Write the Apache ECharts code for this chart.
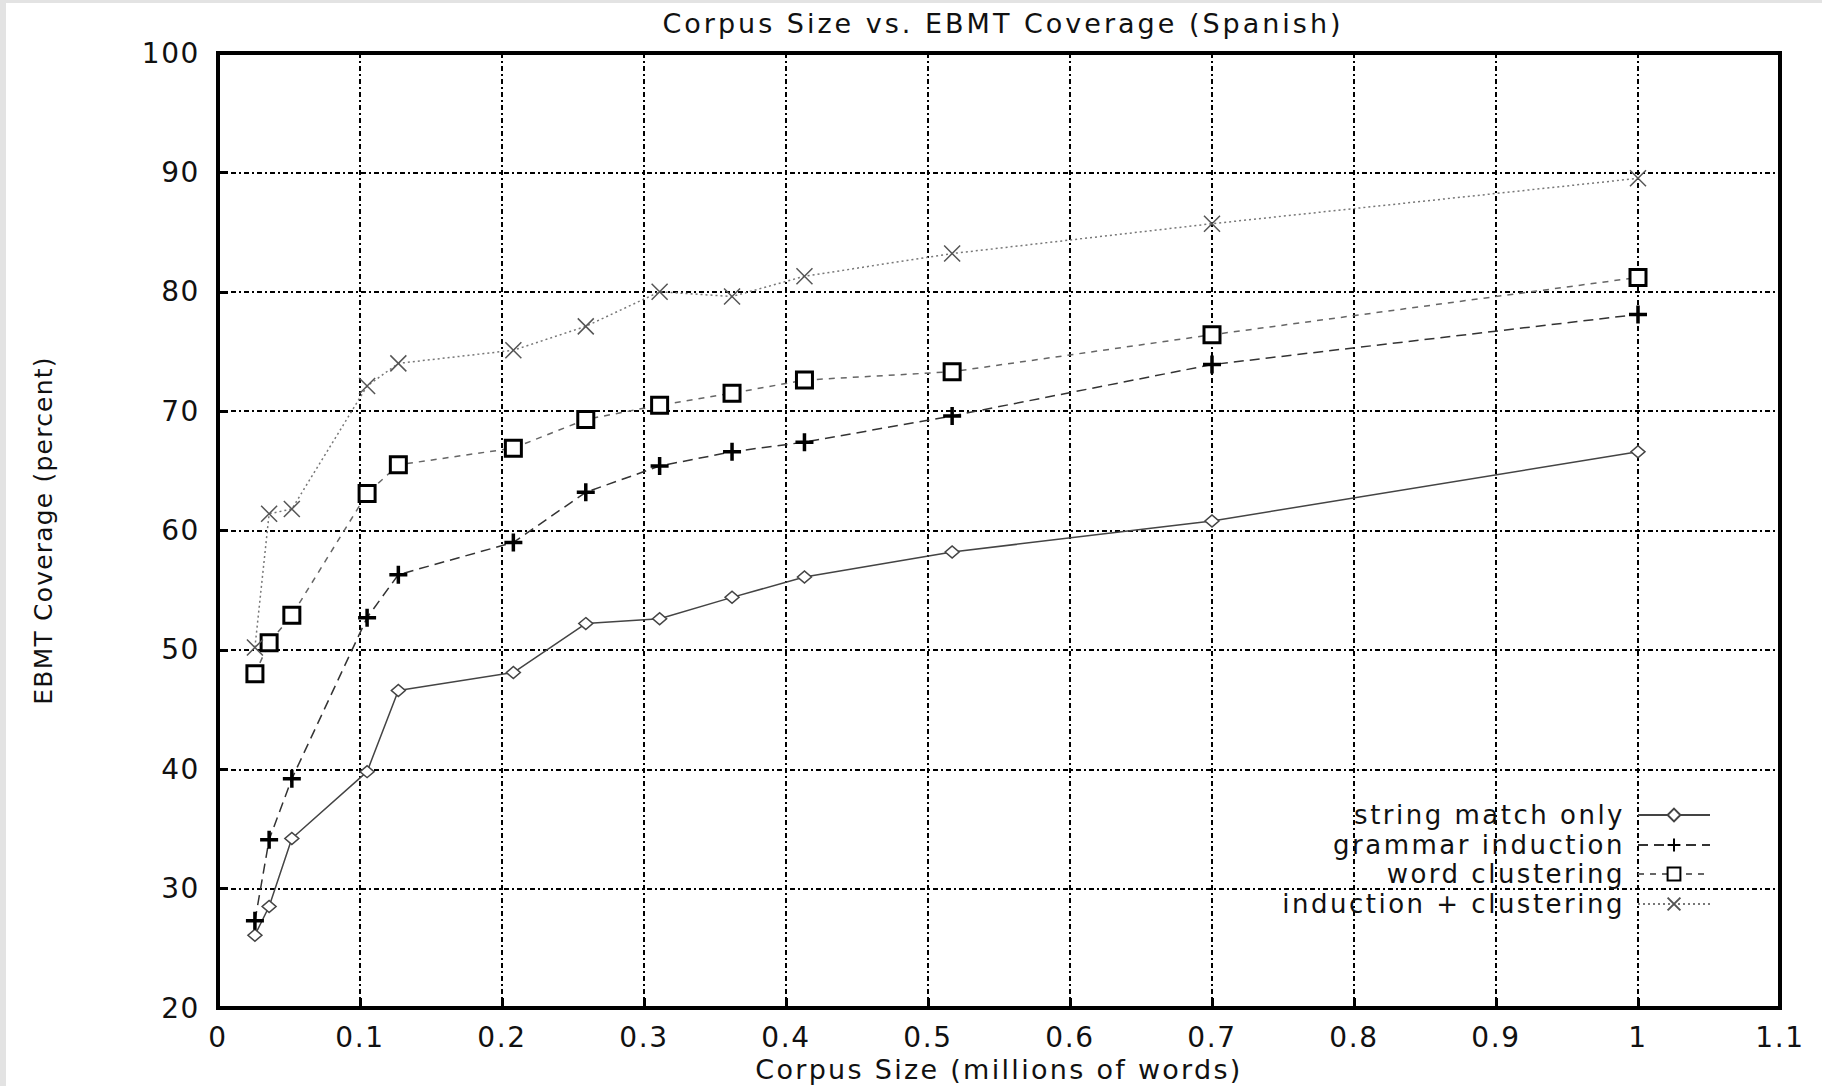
<!DOCTYPE html>
<html>
<head>
<meta charset="utf-8">
<style>
  html, body { margin: 0; padding: 0; background: #e3e3e3; }
  #chart { position: absolute; left: 6px; top: 3px; width: 1816px; height: 1083px; background: #fff; }
  /* the original postscript fonts are stretched horizontally */
  #chart text { letter-spacing: 1.6px; }
</style>
<script src="https://cdn.jsdelivr.net/npm/echarts@6/dist/echarts.min.js"></script>
</head>
<body>
<div id="chart"></div>
<script>
// corpus size in millions of words
const corpusSize = [0.026, 0.036, 0.052, 0.105, 0.127, 0.208, 0.259, 0.311, 0.362, 0.413, 0.517, 0.7, 1.0];

const stringMatch = [26.1, 28.5, 34.2, 39.8, 46.6, 48.1, 52.2, 52.6, 54.4, 56.1, 58.2, 60.8, 66.6];
const grammarInduction = [27.3, 34.1, 39.2, 52.7, 56.3, 59.0, 63.2, 65.4, 66.6, 67.4, 69.6, 73.9, 78.1];
const wordClustering = [48.0, 50.6, 52.9, 63.1, 65.5, 66.9, 69.3, 70.5, 71.5, 72.6, 73.3, 76.4, 81.2];
const inductionClustering = [50.2, 61.4, 61.8, 72.1, 74.0, 75.1, 77.1, 80.0, 79.6, 81.3, 83.2, 85.7, 89.5];

const seriesNames = ['string match only', 'grammar induction', 'word clustering', 'induction + clustering'];

const font = 'DejaVu Sans';
const plusPath = 'path://M5,0L5,10M0,5L10,5';
const crossPath = 'path://M0,0L10,10M0,10L10,0';

function pairs(ys) {
    return corpusSize.map((x, i) => [x, ys[i]]);
}

const gridLine = { show: true, lineStyle: { color: '#000', width: 2, type: [5, 3, 2, 3] } };

const chart = echarts.init(document.getElementById('chart'), null, { renderer: 'svg' });

// one legend per entry so the sample icons line up on the right
const legendRows = [812, 842, 871, 901];
const legends = seriesNames.map((name, i) => ({
    data: [name],
    orient: 'vertical',
    align: 'right',
    right: 106,
    top: legendRows[i] - 18,
    itemWidth: 72,
    itemHeight: 16,
    itemGap: 0,
    selectedMode: false,
    textStyle: { fontFamily: font, fontSize: 26, lineHeight: 26, color: '#111', padding: [0, 8, 0, 0] }
}));

chart.setOption({
    animation: false,
    backgroundColor: '#fff',
    title: {
        text: 'Corpus Size vs. EBMT Coverage (Spanish)',
        left: 992,
        top: 2,
        textAlign: 'center',
        textStyle: { fontFamily: font, fontSize: 27, fontWeight: 'normal', color: '#111' }
    },
    legend: legends,
    grid: {
        left: 212,
        right: 42,
        top: 50,
        bottom: 78,
        outerBoundsMode: 'none',
        show: true,
        borderColor: '#000',
        borderWidth: 4
    },
    xAxis: {
        type: 'value',
        min: 0,
        max: 1.1,
        interval: 0.1,
        name: 'Corpus Size (millions of words)',
        nameLocation: 'middle',
        nameGap: 40,
        nameTextStyle: { fontFamily: font, fontSize: 27, color: '#111' },
        axisLine: { show: true, lineStyle: { color: '#000', width: 4 } },
        axisTick: { show: true, inside: true, length: 10, lineStyle: { color: '#000', width: 3 } },
        axisLabel: {
            fontFamily: font, fontSize: 28, color: '#111', margin: 15,
            formatter: v => String(Math.round(v * 10) / 10)
        },
        splitLine: gridLine
    },
    yAxis: {
        type: 'value',
        min: 20,
        max: 100,
        interval: 10,
        name: 'EBMT Coverage (percent)',
        nameLocation: 'middle',
        nameGap: 162,
        nameTextStyle: { fontFamily: font, fontSize: 25, color: '#111' },
        axisLine: { show: true, lineStyle: { color: '#000', width: 4 } },
        axisTick: { show: true, inside: true, length: 10, lineStyle: { color: '#000', width: 3 } },
        axisLabel: { fontFamily: font, fontSize: 28, color: '#111', margin: 18 },
        splitLine: gridLine
    },
    series: [
        {
            name: seriesNames[0],
            type: 'line',
            data: pairs(stringMatch),
            symbol: 'diamond',
            symbolSize: [14, 12],
            lineStyle: { color: '#444', width: 1.5, type: 'solid' },
            itemStyle: { color: '#fff', borderColor: '#444', borderWidth: 1.5 },
            z: 5
        },
        {
            name: seriesNames[1],
            type: 'line',
            data: pairs(grammarInduction),
            symbol: plusPath,
            symbolSize: 18,
            lineStyle: { color: '#333', width: 1.5, type: [10, 6] },
            itemStyle: { color: '#000', borderColor: '#000', borderWidth: 3.5 },
            z: 6
        },
        {
            name: seriesNames[2],
            type: 'line',
            data: pairs(wordClustering),
            symbol: 'rect',
            symbolSize: 16,
            lineStyle: { color: '#666', width: 1.5, type: [6, 6] },
            itemStyle: { color: '#fff', borderColor: '#000', borderWidth: 3 },
            z: 7
        },
        {
            name: seriesNames[3],
            type: 'line',
            data: pairs(inductionClustering),
            symbol: crossPath,
            symbolSize: 16,
            lineStyle: { color: '#777', width: 1.5, type: [2, 3] },
            itemStyle: { color: '#555', borderColor: '#555', borderWidth: 1.5 },
            z: 8
        }
    ]
});

// wider tracking on the title, axis names and legend, as in the original
document.querySelectorAll('#chart text').forEach(t => {
    const s = t.textContent;
    if (s.startsWith('Corpus Size vs')) t.style.letterSpacing = '3px';
    else if (s.startsWith('Corpus Size (')) t.style.letterSpacing = '2.3px';
    else if (s.startsWith('EBMT')) t.style.letterSpacing = '1.2px';
    else if (seriesNames.includes(s)) t.style.letterSpacing = '2.5px';
});
</script>
</body>
</html>
